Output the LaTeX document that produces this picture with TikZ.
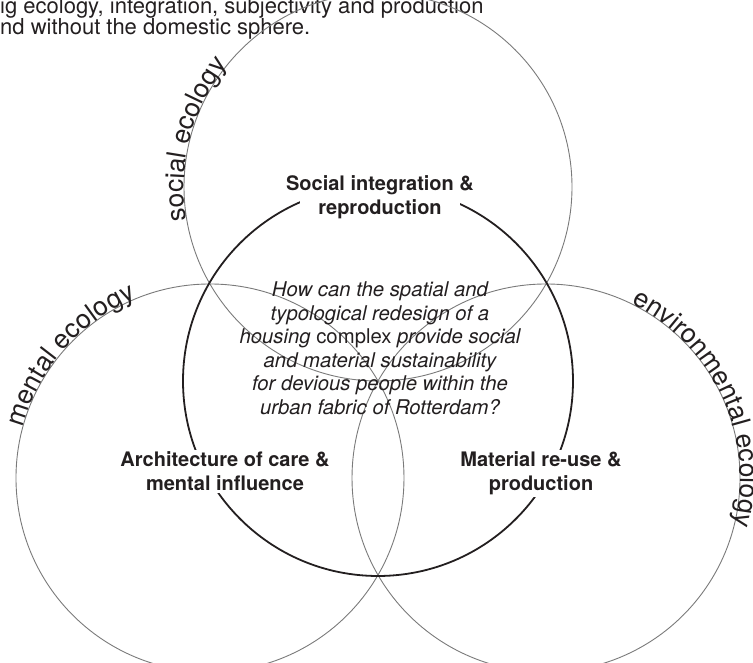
\documentclass[tikz,border=0pt]{standalone}
\usepackage{fontspec}
\setmainfont{TeX Gyre Heros}
\usepackage{xcolor}
\usepackage{tikz}
\usetikzlibrary{decorations.text, calc}

\definecolor{inkgray}{HTML}{231F20}
\definecolor{ringgray}{HTML}{7A7A7A}
\newcommand{\ecofont}{\fontsize{26.5}{26.5}\selectfont}

\begin{document}
\begin{tikzpicture}[
    x=1pt, y=1pt,
    ring/.style={draw=ringgray, line width=0.9pt},
    core/.style={draw=inkgray, line width=1.8pt},
    theme/.style={fill=white, align=center, text=inkgray, inner sep=2pt, font=\fontsize{20}{24}\selectfont\bfseries},
    question/.style={align=center, text=inkgray, inner sep=0pt, font=\fontsize{20.3}{23.5}\selectfont\itshape},
    ecolabel/.style={decorate, decoration={text along path, text color=inkgray, text={|\ecofont|#1}}}
]
\useasboundingbox (0,0) rectangle (753,663);

% Centres of the three ecologies
\coordinate (O) at (378,282);
\coordinate (social) at ($(O)+(90:194)$);
\coordinate (mental) at ($(O)+(210:194)$);
\coordinate (environ) at ($(O)+(330:194)$);

% Intro text (cut by the page)
\node[anchor=base west, align=left, inner sep=0pt, text=inkgray, font=\fontsize{22}{21.5}\selectfont] (intro) at (0,628) {ig ecology, integration, subjectivity and production\\nd without the domestic sphere.};

% Three ecologies
\draw[ring] (social) circle[radius=194];
\draw[ring] (mental) circle[radius=194];
\draw[ring] (environ) circle[radius=194];

% Core ring
\draw[core] (O) circle[radius=195];

% Ring labels
\path[ecolabel={social ecology}] ($(social)+(190:194)$) arc[start angle=190, end angle=110, radius=194];
\path[ecolabel={mental ecology}] ($(mental)+(165:194)$) arc[start angle=165, end angle=90, radius=194];
\path[ecolabel={environmental ecology}] ($(environ)+(64:194)$) arc[start angle=64, end angle=-40, radius=194];

% Research question (base = last line)
\node[question, anchor=base] (question) at (380,248.5) {How can the spatial and\\typological redesign of a\\housing \textup{complex} provide social\\and material sustainability\\for devious people within the\\urban fabric of Rotterdam?};

% Themes
\node[theme, anchor=base, inner xsep=-14pt] (integration) at (380,448) {Social integration \&\\reproduction};
\node[theme, anchor=base] (care) at (225,172) {Architecture of care \&\\mental influence};
\node[theme, anchor=base] (reuse) at (541,172) {Material re-use \&\\production};

\end{tikzpicture}
\end{document}
